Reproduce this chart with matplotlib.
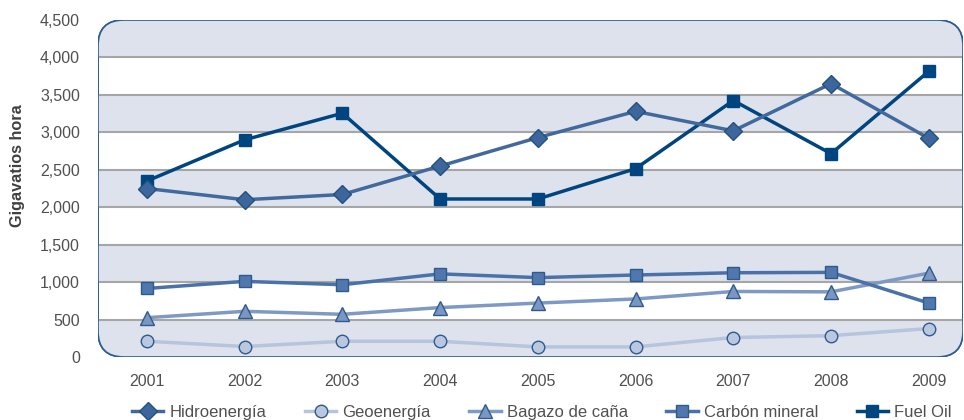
import matplotlib
matplotlib.use("Agg")
import matplotlib.pyplot as plt
from matplotlib.patches import FancyBboxPatch
from matplotlib.ticker import FuncFormatter

plt.rcParams['font.family'] = ['Liberation Sans', 'DejaVu Sans']

years = [2001, 2002, 2003, 2004, 2005, 2006, 2007, 2008, 2009]
hidro = [2250, 2100, 2170, 2550, 2930, 3280, 3020, 3650, 2920]
geo = [210, 140, 210, 210, 135, 135, 260, 285, 380]
bagazo = [525, 610, 570, 660, 720, 775, 875, 870, 1120]
carbon = [915, 1010, 965, 1110, 1060, 1095, 1125, 1130, 720]
fuel = [2350, 2900, 3255, 2110, 2110, 2515, 3425, 2715, 3815]

band_color = '#dde2ed'
grid_color = '#a6a6a6'
text_color = '#505050'

fig = plt.figure(figsize=(9.64, 4.2), dpi=100)
ax = fig.add_axes([98/964, 63/420, 865/964, 337/420])
ax.set_xlim(2000.5, 2009.35)
ax.set_ylim(0, 4500)

# rounded plot frame
aspect = 865/337
frame = FancyBboxPatch((0, 0), 1, 1, boxstyle="round,pad=0,rounding_size=0.03",
                       mutation_aspect=aspect, transform=ax.transAxes,
                       facecolor='white', edgecolor='#2b5c93', linewidth=1.2, zorder=0.5)
ax.add_patch(frame)
ax.patch.set_visible(False)

for lo in [0, 1000, 2000, 3000, 4000]:
    span = ax.axhspan(lo, lo + 500, color=band_color, lw=0, zorder=0.6)
    span.set_clip_path(frame)
for g in range(500, 4500, 500):
    ln = ax.axhline(g, color=grid_color, lw=1.5, zorder=0.7)
    ln.set_clip_path(frame)

# border again, above the bands
border = FancyBboxPatch((0, 0), 1, 1, boxstyle="round,pad=0,rounding_size=0.03",
                        mutation_aspect=aspect, transform=ax.transAxes,
                        facecolor='none', edgecolor='#2b5c93', linewidth=1.2, zorder=0.8)
ax.add_patch(border)

lw = 2.5
ax.plot(years, fuel, color='#00457f', lw=lw, marker='s', ms=9,
        mfc='#00457f', mec='#00457f', label='Fuel Oil', zorder=3)
ax.plot(years, hidro, color='#41699d', lw=lw, marker='D', ms=9,
        mfc='#3d669c', mec='#24507f', label='Hidroenergía', zorder=4)
ax.plot(years, geo, color='#b7c4dd', lw=lw, marker='o', ms=9,
        mfc='#bac7e0', mec='#2e5a8c', mew=1, label='Geoenergía', zorder=3)
ax.plot(years, bagazo, color='#7f99c5', lw=lw, marker='^', ms=9.5,
        mfc='#7b96c3', mec='#2e5a8c', mew=1, label='Bagazo de caña', zorder=3)
ax.plot(years, carbon, color='#4a72a8', lw=lw, marker='s', ms=9,
        mfc='#5078ae', mec='#2e5a8c', mew=1, label='Carbón mineral', zorder=3)

ax.set_xticks(years)
ax.set_yticks(range(0, 4501, 500))
ax.yaxis.set_major_formatter(FuncFormatter(lambda v, p: f"{int(v):,}"))
ax.tick_params(length=0, labelsize=11.5, labelcolor=text_color)
ax.tick_params(axis='x', pad=12)
ax.tick_params(axis='y', pad=13)
for s in ax.spines.values():
    s.set_visible(False)

fig.text(18/964, (420-166)/420, 'Gigavatios hora', rotation=90, ha='center', va='center',
         fontsize=11.7, fontweight='bold', color='#404040')

handles, labels = ax.get_legend_handles_labels()
order = ['Hidroenergía', 'Geoenergía', 'Bagazo de caña', 'Carbón mineral', 'Fuel Oil']
hmap = dict(zip(labels, handles))
fig.legend([hmap[k] for k in order], order, loc='lower center', ncol=5,
           bbox_to_anchor=(0.562, -0.035), frameon=False, fontsize=12,
           labelcolor=text_color, handlelength=1.9, columnspacing=2.3, handletextpad=0.36)

fig.savefig('out.png', dpi=100)
